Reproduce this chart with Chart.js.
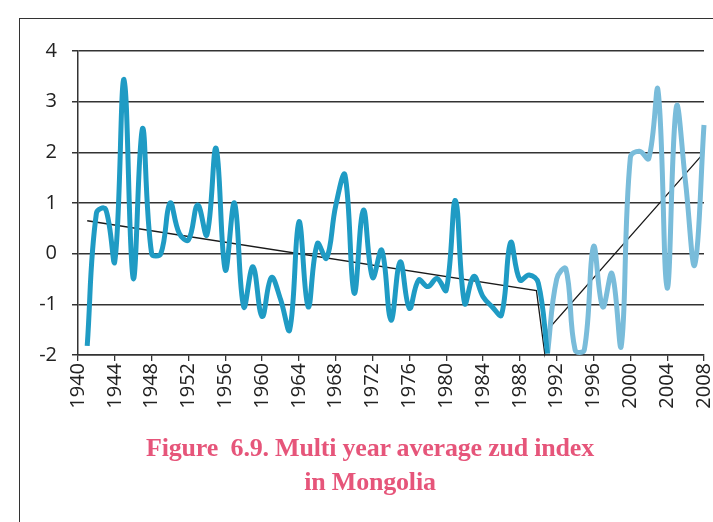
<!DOCTYPE html>
<html>
<head>
<meta charset="utf-8">
<script src="https://cdn.jsdelivr.net/npm/chart.js@4.4.1/dist/chart.umd.min.js"></script>
<style>
  html, body { margin: 0; padding: 0; background: #fff; }
  #wrap { position: relative; width: 713px; height: 522px; overflow: hidden; }
  #frame { position: absolute; left: 19px; top: 18px; width: 720px; height: 520px;
           border-left: 1.5px solid #333; border-top: 1.5px solid #333; }
  canvas { position: absolute; left: 0; top: 0; }
  #caption { position: absolute; left: 70px; width: 600px; top: 431px; text-align: center;
             font-family: "Liberation Serif", serif; font-weight: bold; font-size: 26px;
             letter-spacing: -0.2px; line-height: 34px; color: #e6557a; }
</style>
</head>
<body>
<div id="wrap">
  <div id="frame"></div>
  <canvas id="zudChart" width="713" height="522"></canvas>
  <div id="caption">Figure&nbsp; 6.9. Multi year average zud index<br>in Mongolia</div>
</div>
<script>
// yearly zud index
var years = [1941, 1942, 1943, 1944, 1945, 1946, 1947, 1948, 1949, 1950,
  1951, 1952, 1953, 1954, 1955, 1956, 1957, 1958, 1959, 1960,
  1961, 1962, 1963, 1964, 1965, 1966, 1967, 1968, 1969, 1970,
  1971, 1972, 1973, 1974, 1975, 1976, 1977, 1978, 1979, 1980,
  1981, 1982, 1983, 1984, 1985, 1986, 1987, 1988, 1989, 1990,
  1991, 1992, 1993, 1994, 1995, 1996, 1997, 1998, 1999, 2000,
  2001, 2002, 2003, 2004, 2005, 2006, 2007, 2008];
var zudIndex = [-1.82, 0.8, 0.88, -0.15, 3.44, -0.49, 2.47, 0.0, 0.0, 1.0,
  0.4, 0.27, 0.96, 0.37, 2.08, -0.32, 1.0, -1.05, -0.26, -1.24,
  -0.47, -0.9, -1.5, 0.63, -1.05, 0.2, -0.09, 0.95, 1.55, -0.78,
  0.86, -0.47, 0.07, -1.31, -0.16, -1.08, -0.52, -0.65, -0.49, -0.72,
  1.05, -0.98, -0.45, -0.85, -1.05, -1.21, 0.22, -0.52, -0.42, -0.58,
  -1.97, -0.5, -0.3, -1.9, -1.9, 0.14, -1.05, -0.39, -1.84, 1.9,
  2.02, 1.88, 3.23, -0.68, 2.9, 1.4, -0.22, 2.54];
var splitYear = 1991; // colour changes here

// trend lines (before / after 1990)
var trendX = [1941, 1989.8, 1990.7, 1991.1, 2007.8];
var trendY = [0.65, -0.73, -1.97, -1.49, 1.95];

var yTicks = [-2, -1, 0, 1, 2, 3, 4];

function buildPoints(fromYear, toYear) {
  var pts = [];
  years.forEach(function (y, i) {
    if (y >= fromYear && y <= toYear) pts.push({ x: y, y: zudIndex[i] });
  });
  return pts;
}

var trendPoints = trendX.map(function (x, i) { return { x: x, y: trendY[i] }; });

var ctx = document.getElementById("zudChart");
new Chart(ctx, {
  type: "line",
  data: {
    datasets: [
      {
        data: buildPoints(1941, splitYear),
        borderColor: "#1f9bc4",
        borderWidth: 5,
        tension: 0.4,
        pointRadius: 0,
        clip: false
      },
      {
        data: buildPoints(splitYear, 2008),
        borderColor: "#79bcda",
        borderWidth: 5,
        tension: 0.4,
        pointRadius: 0,
        clip: false
      },
      {
        data: trendPoints,
        borderColor: "#1a1a1a",
        borderWidth: 1.3,
        tension: 0,
        pointRadius: 0,
        clip: false
      }
    ]
  },
  options: {
    responsive: false,
    animation: false,
    events: [],
    layout: { padding: { left: 0, right: 9, top: 51, bottom: 0 } },
    plugins: { legend: { display: false }, tooltip: { enabled: false } },
    scales: {
      x: {
        type: "linear",
        min: 1940,
        max: 2008,
        afterFit: function (s) {
          s.height = 167;
          s.paddingLeft = 0;
          s.paddingRight = 0;
        },
        afterBuildTicks: function (s) {
          var t = [];
          for (var y = 1940; y <= 2008; y += 4) t.push({ value: y });
          s.ticks = t;
        },
        ticks: {
          minRotation: 90,
          maxRotation: 90,
          padding: 2,
          color: "#222",
          font: { family: "Open Sans", size: 20 },
          callback: function (v) { return String(v); }
        },
        grid: { drawOnChartArea: false, drawTicks: true, tickLength: 6, color: "#333", lineWidth: 1.3 },
        border: { display: true, color: "#333", width: 1.5 }
      },
      y: {
        min: -2,
        max: 4,
        afterFit: function (s) { s.width = 78; },
        afterBuildTicks: function (s) {
          s.ticks = yTicks.map(function (v) { return { value: v }; });
        },
        ticks: {
          padding: 15,
          color: "#222",
          font: { family: "Open Sans", size: 20 }
        },
        grid: { color: "#333", lineWidth: 1.5, tickLength: 6 },
        border: { display: true, color: "#333", width: 1.5 }
      }
    }
  }
});
</script>
</body>
</html>
